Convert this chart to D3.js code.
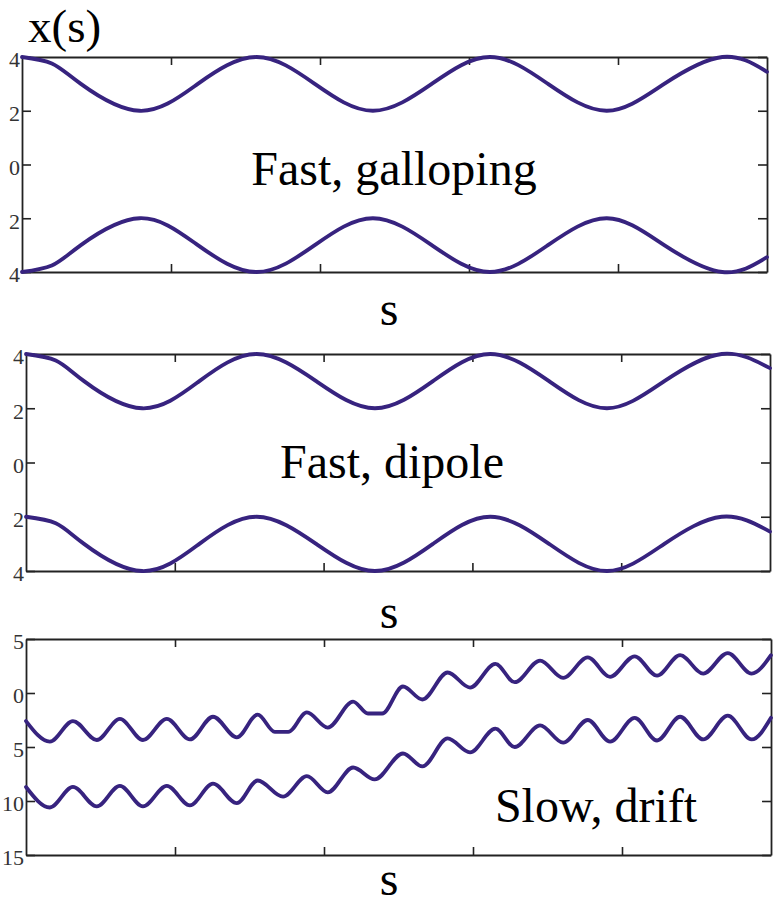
<!DOCTYPE html>
<html>
<head>
<meta charset="utf-8">
<script src="https://cdn.jsdelivr.net/npm/d3@7"></script>
<style>
  body { margin: 0; background: #fff; }
  svg { display: block; }
</style>
</head>
<body>
<svg id="chart" width="779" height="909"></svg>
<script>
// ---- Fast, galloping: two mirrored oscillating traces ----
const sGallop      = [0, 0.04, 0.079, 0.158, 0.236, 0.315, 0.393, 0.471, 0.550, 0.628, 0.706, 0.785, 0.862, 0.940, 1.0];
const gallopUpper  = [4, 3.76, 3, 2, 3, 4, 3, 2, 3, 4, 3, 2, 3, 4, 3.45];
const gallopLower  = [-4, -3.76, -3, -2, -3, -4, -3, -2, -3, -4, -3, -2, -3, -4, -3.45];

// ---- Fast, dipole: two in-phase oscillating traces ----
const sDipole      = [0, 0.04, 0.078, 0.156, 0.233, 0.310, 0.390, 0.469, 0.547, 0.624, 0.703, 0.781, 0.858, 0.935, 1.0];
const dipoleUpper  = [4, 3.76, 3, 2, 3, 4, 3, 2, 3, 4, 3, 2, 3, 4, 3.48];
const dipoleLower  = [-2, -2.24, -3, -4, -3, -2, -3, -4, -3, -2, -3, -4, -3, -2, -2.55];

// ---- Slow, drift: oscillating traces that shift partway along s ----
const sDriftUpper  = [0, 0.032, 0.063, 0.095, 0.126, 0.157, 0.189, 0.220, 0.251, 0.283, 0.311, 0.334, 0.352,
                      0.377, 0.405, 0.439, 0.459, 0.478, 0.506, 0.532, 0.566, 0.596, 0.630, 0.656, 0.690,
                      0.721, 0.754, 0.784, 0.817, 0.847, 0.878, 0.909, 0.942, 0.974, 1.0];
const driftUpper   = [-2.6, -4.5, -2.6, -4.35, -2.4, -4.35, -2.4, -4.3, -2.2, -4.1, -2.0, -3.6, -3.6,
                      -1.8, -3.2, -0.8, -1.9, -1.9, 0.6, -0.6, 1.9, 0.5, 2.7, 1.0, 3.0,
                      1.4, 3.3, 1.5, 3.4, 1.6, 3.5, 1.8, 3.7, 1.8, 3.5];
const sDriftLower  = [0, 0.032, 0.063, 0.095, 0.126, 0.157, 0.189, 0.220, 0.251, 0.283, 0.311, 0.345,
                      0.377, 0.405, 0.439, 0.468, 0.506, 0.532, 0.566, 0.596, 0.630, 0.656, 0.690,
                      0.721, 0.754, 0.784, 0.817, 0.847, 0.878, 0.909, 0.942, 0.974, 1.0];
const driftLower   = [-8.7, -10.6, -8.7, -10.5, -8.6, -10.5, -8.6, -10.4, -8.4, -10.2, -8.1, -9.6,
                      -7.7, -9.2, -6.9, -8.0, -5.6, -6.8, -4.2, -5.5, -3.3, -5.0, -3.0,
                      -4.6, -2.5, -4.5, -2.3, -4.4, -2.2, -4.3, -2.1, -4.3, -2.3];

// ---- axis ticks ----
const xTicks          = [0.2, 0.4, 0.6, 0.8];
const yTicksFast      = [4, 2, 0, -2, -4];
const yTickLabelsFast = ["4", "2", "0", "2", "4"];
const yTicksDrift      = [5, 0, -5, -10, -15];
const yTickLabelsDrift = ["5", "0", "5", "10", "15"];

// ---- text ----
const yTitle = "x(s)";
const xTitle = "s";
const panelTitles = ["Fast, galloping", "Fast, dipole", "Slow, drift"];

const svg = d3.select("#chart");
const lineColor = "#37237f";
const axisColor = "#222";
const serif = "'Liberation Serif', 'Times New Roman', serif";

const panels = [
  { box: { l: 22, r: 767, t: 57,  b: 272 }, yDomain: [-4, 4],
    yTicks: yTicksFast, yLabels: yTickLabelsFast, curve: d3.curveNatural,
    series: [[sGallop, gallopUpper], [sGallop, gallopLower]],
    title: panelTitles[0], titleX: 394, titleY: 185, sX: 389, sY: 325 },
  { box: { l: 26, r: 770, t: 354, b: 571 }, yDomain: [-4, 4],
    yTicks: yTicksFast, yLabels: yTickLabelsFast, curve: d3.curveNatural,
    series: [[sDipole, dipoleUpper], [sDipole, dipoleLower]],
    title: panelTitles[1], titleX: 392, titleY: 478, sX: 389, sY: 628 },
  { box: { l: 26, r: 771, t: 639, b: 855 }, yDomain: [-15, 5],
    yTicks: yTicksDrift, yLabels: yTickLabelsDrift, curve: d3.curveMonotoneX,
    series: [[sDriftUpper, driftUpper], [sDriftLower, driftLower]],
    title: panelTitles[2], titleX: 596, titleY: 822, sX: 389, sY: 895 }
];

function styleAxis(g) {
  g.select(".domain").attr("stroke", axisColor).attr("stroke-width", 1.8);
  g.selectAll(".tick line").attr("stroke", axisColor).attr("stroke-width", 1.6);
  g.selectAll(".tick text")
    .attr("fill", "#333")
    .attr("font-family", serif)
    .attr("font-size", 22)
    .attr("dy", "0.45em");
}

panels.forEach(p => {
  const { l, r, t, b } = p.box;
  const x = d3.scaleLinear().domain([0, 1]).range([l, r]);
  const y = d3.scaleLinear().domain(p.yDomain).range([b, t]);
  const g = svg.append("g");

  // box with inward ticks on all four sides
  g.append("g").attr("transform", `translate(0,${b})`)
    .call(d3.axisBottom(x).tickValues(xTicks).tickSize(-8).tickSizeOuter(0).tickFormat(""))
    .call(styleAxis);
  g.append("g").attr("transform", `translate(0,${t})`)
    .call(d3.axisTop(x).tickValues(xTicks).tickSize(-8).tickSizeOuter(0).tickFormat(""))
    .call(styleAxis);
  g.append("g").attr("transform", `translate(${l},0)`)
    .call(d3.axisLeft(y).tickValues(p.yTicks).tickSize(-9).tickSizeOuter(0).tickPadding(2)
      .tickFormat((d, i) => p.yLabels[i]))
    .call(styleAxis);
  g.append("g").attr("transform", `translate(${r},0)`)
    .call(d3.axisRight(y).tickValues(p.yTicks).tickSize(-9).tickSizeOuter(0).tickFormat(""))
    .call(styleAxis);

  // traces
  const line = d3.line()
    .x(d => x(d[0]))
    .y(d => y(d[1]))
    .curve(p.curve);
  p.series.forEach(([sv, vv]) => {
    g.append("path")
      .datum(sv.map((s, i) => [s, vv[i]]))
      .attr("fill", "none")
      .attr("stroke", lineColor)
      .attr("stroke-width", 3.8)
      .attr("stroke-linejoin", "round")
      .attr("stroke-linecap", "round")
      .attr("d", line);
  });

  // panel title inside plot
  g.append("text")
    .attr("x", p.titleX).attr("y", p.titleY)
    .attr("text-anchor", "middle")
    .attr("font-family", serif).attr("font-size", 48)
    .attr("fill", "#000")
    .text(p.title);

  // x-axis label
  g.append("text")
    .attr("x", p.sX).attr("y", p.sY)
    .attr("text-anchor", "middle")
    .attr("font-family", serif).attr("font-size", 48)
    .attr("fill", "#000")
    .text(xTitle);
});

// y-axis title at top left
svg.append("text")
  .attr("x", 28).attr("y", 42)
  .attr("font-family", serif).attr("font-size", 47)
  .attr("fill", "#000")
  .text(yTitle);
</script>
</body>
</html>
